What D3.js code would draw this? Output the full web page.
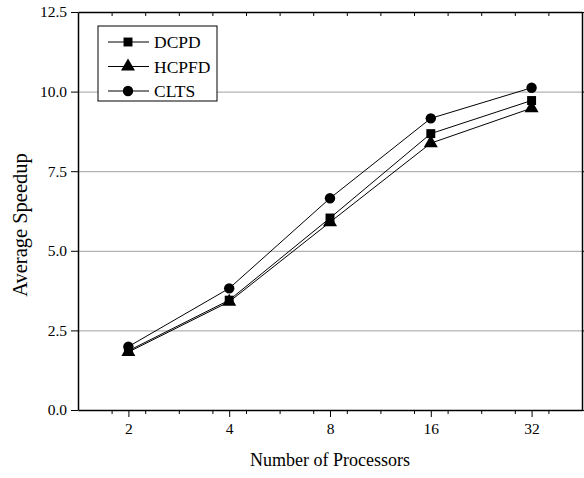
<!DOCTYPE html>
<html lang="en">
<head>
<meta charset="UTF-8"/>
<script src="https://d3js.org/d3.v7.min.js"></script>
<style>
  body { margin: 0; background: #fff; }
  svg { display: block; font-family: 'Times New Roman', 'Liberation Serif', serif; }
  .axis path, .axis line { stroke: #000; }
  .axis text { font-size: 15.5px; fill: #000; font-family: 'Times New Roman', 'Liberation Serif', serif; }
  .grid line { stroke: #a0a0a0; stroke-width: 1; }
  .grid path { stroke-width: 0; }
  text.label { font-size: 18px; }
  text.ylabel { font-size: 20.5px; }
  text.legend { font-size: 17.5px; }
</style>
</head>
<body>
<svg width="584" height="478"></svg>
<script>
// processor counts on the x axis
const processors = ['2', '4', '8', '16', '32'];
const yTicks = [0, 2.5, 5, 7.5, 10, 12.5];

const dcpd  = [1.86, 3.45, 6.03, 8.68, 9.72];
const hcpfd = [1.82, 3.40, 5.90, 8.38, 9.48];
const clts  = [1.99, 3.82, 6.65, 9.16, 10.12];

const seriesNames = ['DCPD', 'HCPFD', 'CLTS'];
const seriesValues = [dcpd, hcpfd, clts];
const seriesShapes = [d3.symbolSquare, d3.symbolTriangle, d3.symbolCircle];
const shapeSizes = [80, 85, 85];

const svg = d3.select('svg');
const plotLeft = 78, plotRight = 582, plotTop = 12, plotBottom = 410;

const x = d3.scaleLinear().domain([0.5, processors.length + 0.5]).range([plotLeft, plotRight]);
const y = d3.scaleLinear().domain([0, 12.5]).range([plotBottom, plotTop]);

// gridlines
svg.append('g')
  .attr('class', 'grid')
  .attr('transform', `translate(${plotLeft},0)`)
  .call(d3.axisLeft(y).tickValues(yTicks.slice(1, -1)).tickSize(-(plotRight - plotLeft)).tickFormat(''));

// tick positions every third of a category
const thirds = d3.range(2, 16).map(k => k / 3 + 1 / 6).filter(v => v > 0.55 && v < 5.45);

// bottom axis
svg.append('g')
  .attr('class', 'axis')
  .attr('transform', `translate(0,${plotBottom})`)
  .call(d3.axisBottom(x).tickValues(d3.range(1, processors.length + 1))
    .tickFormat((d, i) => processors[i]).tickSize(7).tickSizeOuter(0).tickPadding(6))
  .call(g => g.select('.domain').attr('stroke-width', 1.5));

svg.append('g')
  .attr('class', 'axis')
  .attr('transform', `translate(0,${plotBottom})`)
  .call(d3.axisBottom(x).tickValues(thirds.filter(v => Math.abs(v - Math.round(v)) > 0.05))
    .tickFormat('').tickSize(4).tickSizeOuter(0))
  .call(g => g.select('.domain').remove());

// top axis, ticks inward
svg.append('g')
  .attr('class', 'axis')
  .attr('transform', `translate(0,${plotTop})`)
  .call(d3.axisTop(x).tickValues(thirds).tickFormat('').tickSize(-4).tickSizeOuter(0))
  .call(g => g.select('.domain').attr('stroke-width', 1.5));

// left axis
svg.append('g')
  .attr('class', 'axis')
  .attr('transform', `translate(${plotLeft},0)`)
  .call(d3.axisLeft(y).tickValues(yTicks).tickFormat(d3.format('.1f'))
    .tickSize(7).tickSizeOuter(0).tickPadding(4))
  .call(g => g.select('.domain').attr('stroke-width', 1.5));

// right axis
svg.append('g')
  .attr('class', 'axis')
  .attr('transform', `translate(${plotRight},0)`)
  .call(d3.axisRight(y).tickValues(yTicks).tickFormat('').tickSize(4).tickSizeOuter(0))
  .call(g => g.select('.domain').attr('stroke-width', 1.5));

const line = d3.line().x((d, i) => x(i + 1)).y(d => y(d));

seriesValues.forEach((vals) => {
  svg.append('path')
    .datum(vals)
    .attr('fill', 'none')
    .attr('stroke', '#000')
    .attr('stroke-width', 1)
    .attr('d', line);
});

seriesValues.forEach((vals, s) => {
  svg.selectAll(null)
    .data(vals)
    .enter()
    .append('path')
    .attr('d', d3.symbol().type(seriesShapes[s]).size(shapeSizes[s]))
    .attr('transform', (d, i) => `translate(${x(i + 1)},${y(d)})`)
    .attr('fill', '#000');
});

// legend
const lg = svg.append('g').attr('transform', 'translate(98,26)');
lg.append('rect').attr('width', 119).attr('height', 75)
  .attr('fill', '#fff').attr('stroke', '#000').attr('stroke-width', 1);
seriesNames.forEach((name, s) => {
  const ly = 16 + s * 24.5;
  lg.append('line').attr('x1', 10).attr('x2', 51).attr('y1', ly).attr('y2', ly)
    .attr('stroke', '#000').attr('stroke-width', 1);
  lg.append('path')
    .attr('d', d3.symbol().type(seriesShapes[s]).size(shapeSizes[s]))
    .attr('transform', `translate(30,${ly})`);
  lg.append('text').attr('class', 'legend').attr('x', 56).attr('y', ly + 6).text(name);
});

// axis titles
svg.append('text')
  .attr('class', 'label')
  .attr('x', (plotLeft + plotRight) / 2)
  .attr('y', 466)
  .attr('text-anchor', 'middle')
  .text('Number of Processors');

svg.append('text')
  .attr('class', 'ylabel')
  .attr('transform', `translate(27,225) rotate(-90)`)
  .attr('text-anchor', 'middle')
  .text('Average Speedup');
</script>
</body>
</html>
